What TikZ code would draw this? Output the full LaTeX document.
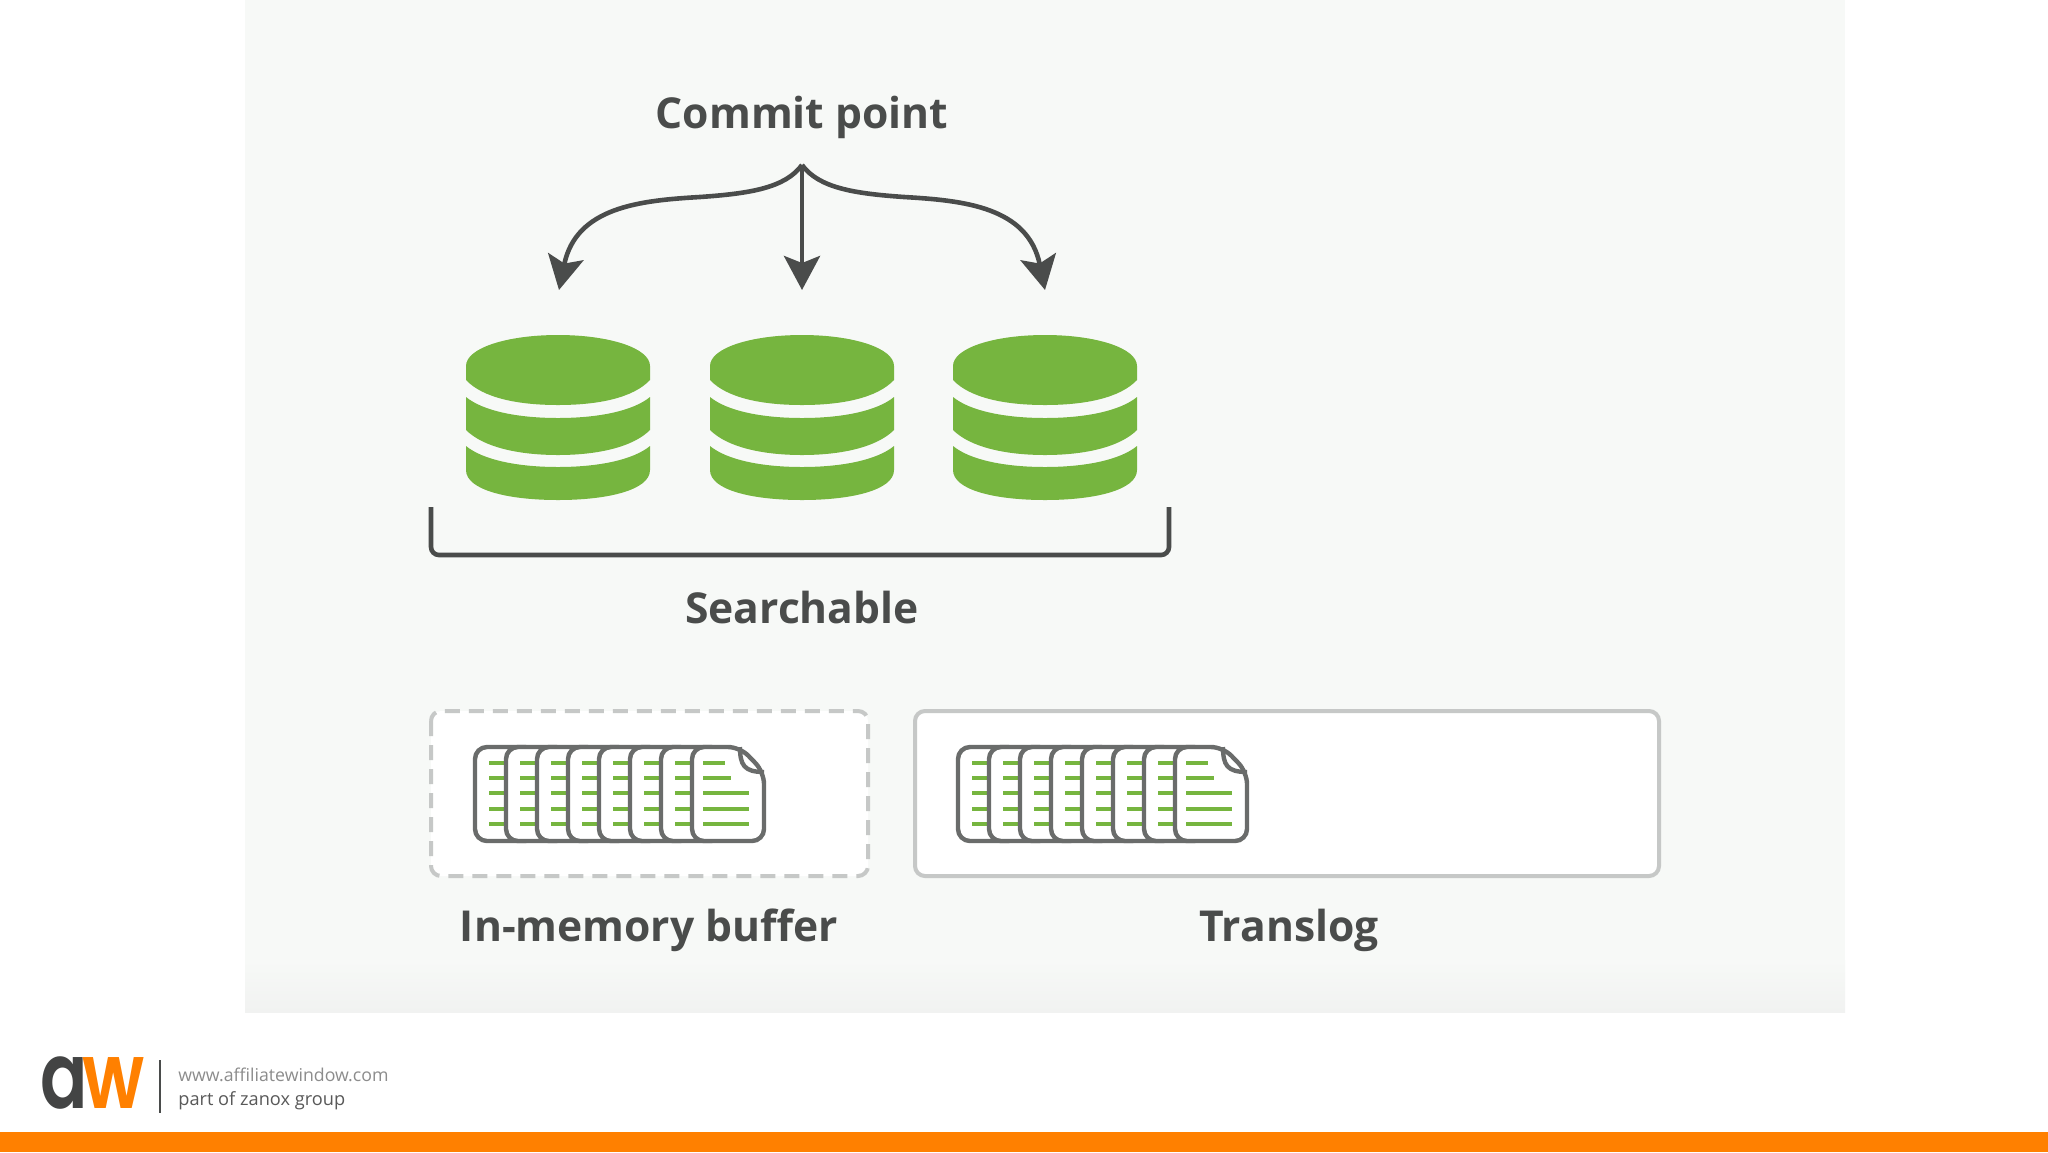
\documentclass[tikz,border=0pt]{standalone}
\usepackage{fontspec}
\setmainfont{Open Sans}
\newfontfamily\logofont{Poppins SemiBold}
\usetikzlibrary{arrows.meta}
\definecolor{panel}{HTML}{F7F9F7}
\definecolor{panelb}{HTML}{F1F2F1}
\definecolor{ink}{HTML}{4A4C4B}
\definecolor{leaf}{HTML}{76B53F}
\definecolor{pageline}{HTML}{6A6C6B}
\definecolor{orangebar}{HTML}{FF8000}
\definecolor{dashgrey}{HTML}{C6C8C7}
\tikzset{
  label/.style={font=\bfseries\fontsize{21.3}{26}\selectfont,text=ink,anchor=base,inner sep=0pt},
  conn/.style={draw=ink,line width=2.3pt,-{Stealth[length=17pt,width=18pt,inset=3.5pt]}},
  pg/.style={fill=white,draw=pageline,line width=2.2pt,rounded corners=6pt},
  ln/.style={draw=leaf,line width=2.2pt},
  buf/.style={fill=white,line width=2pt,rounded corners=5pt},
  pics/cyl/.style={code={
    \fill[leaf] (-92,366) .. controls (-92,348) and (-51,335) .. (0,335) .. controls (51,335) and (92,348) .. (92,366)
      -- (92,380) .. controls (75,398) and (40,405) .. (0,405) .. controls (-40,405) and (-75,398) .. (-92,380) -- cycle;
    \fill[leaf] (-92,397) .. controls (-75,411) and (-40,418) .. (0,418) .. controls (40,418) and (75,411) .. (92,397)
      -- (92,430) .. controls (75,447) and (40,455) .. (0,455) .. controls (-40,455) and (-75,447) .. (-92,430) -- cycle;
    \fill[leaf] (-92,446) .. controls (-75,460) and (-40,467) .. (0,467) .. controls (40,467) and (75,460) .. (92,446)
      -- (92,470) .. controls (92,490) and (50,500) .. (0,500) .. controls (-50,500) and (-92,490) .. (-92,470) -- cycle;
  }},
  pics/docs/.style={code={
    \foreach \i in {0,...,6}{
      \begin{scope}[xshift=\i*15.5pt]
        \draw[pg] (0,747) rectangle (62,841);
        \foreach \yy in {763,778,793,809,824}{\draw[ln] (14,\yy) -- (31,\yy);}
      \end{scope}
    }
    \begin{scope}[xshift=108.5pt]
      \draw[pg] (0,747) -- (48,747) -- (72,772) -- (72,841) -- (0,841) -- cycle;
      \draw[draw=pageline,line width=2.2pt,line join=round] (48,747) .. controls (48,765) and (52,772) .. (72,772);
      \draw[ln] (11,763) -- (33,763);
      \draw[ln] (11,778) -- (39,778);
      \foreach \yy in {793,809,824}{\draw[ln] (11,\yy) -- (57,\yy);}
    \end{scope}
  }}
}
\begin{document}
\begin{tikzpicture}[x=0.5pt,y=-0.5pt]
\useasboundingbox (0,0) rectangle (2048,1152);
\fill[white] (0,0) rectangle (2048,1152);
\fill[panel] (245,0) rectangle (1845,960);
\shade[top color=panel,bottom color=panelb] (245,960) rectangle (1845,1012);
\fill[orangebar] (0,1132) rectangle (2048,1152);

\node[label] (commit) at (802,128) {Commit point};
\coordinate (fork) at (802,165);
\coordinate (tipa) at (559,290);
\coordinate (tipb) at (802,290);
\coordinate (tipc) at (1045,290);
\draw[conn] (fork) .. controls (785,188) and (750,193.5) .. (700,197) .. controls (640,200.5) and (576,207) .. (tipa);
\draw[conn] (fork) -- (tipb);
\draw[conn] (fork) .. controls (819,188) and (854,193.5) .. (904,197) .. controls (964,200.5) and (1028,207) .. (tipc);

\pic at (558,0) {cyl};
\pic at (802,0) {cyl};
\pic at (1045,0) {cyl};

\draw[draw=ink,line width=2.3pt,rounded corners=4pt] (431,507) -- (431,555) -- (1169,555) -- (1169,507);
\node[label] (searchable) at (802,623) {Searchable};

\draw[buf,draw=dashgrey,dash pattern=on 7.5pt off 4.5pt] (431,711) rectangle (868,876);
\draw[buf,draw=dashgrey] (915,711) rectangle (1659,876);
\pic at (475,0) {docs};
\pic at (958,0) {docs};
\node[label] (buffer) at (649,941) {In-memory buffer};
\node[label] (translog) at (1289,941) {Translog};

\node[anchor=base west,inner sep=0pt,font=\logofont\fontsize{46}{48}\selectfont,text=ink!90!black] (loga) at (40,1108) {\scalebox{.76}[1]{a}};
\node[anchor=base west,inner sep=0pt,font=\logofont\fontsize{46}{48}\selectfont,text=orangebar] (logw) at (82,1108) {\scalebox{.8}[1]{w}};
\draw[draw=ink,line width=1.2pt] (160,1060) -- (160,1113);
\node[anchor=base west,inner sep=0pt,font=\fontsize{8.86}{12}\selectfont,text=black!45] (url) at (178,1081) {www.affiliatewindow.com};
\node[anchor=base west,inner sep=0pt,font=\fontsize{9.1}{12}\selectfont,text=black!65] (part) at (178,1105) {part of zanox group};
\end{tikzpicture}
\end{document}
